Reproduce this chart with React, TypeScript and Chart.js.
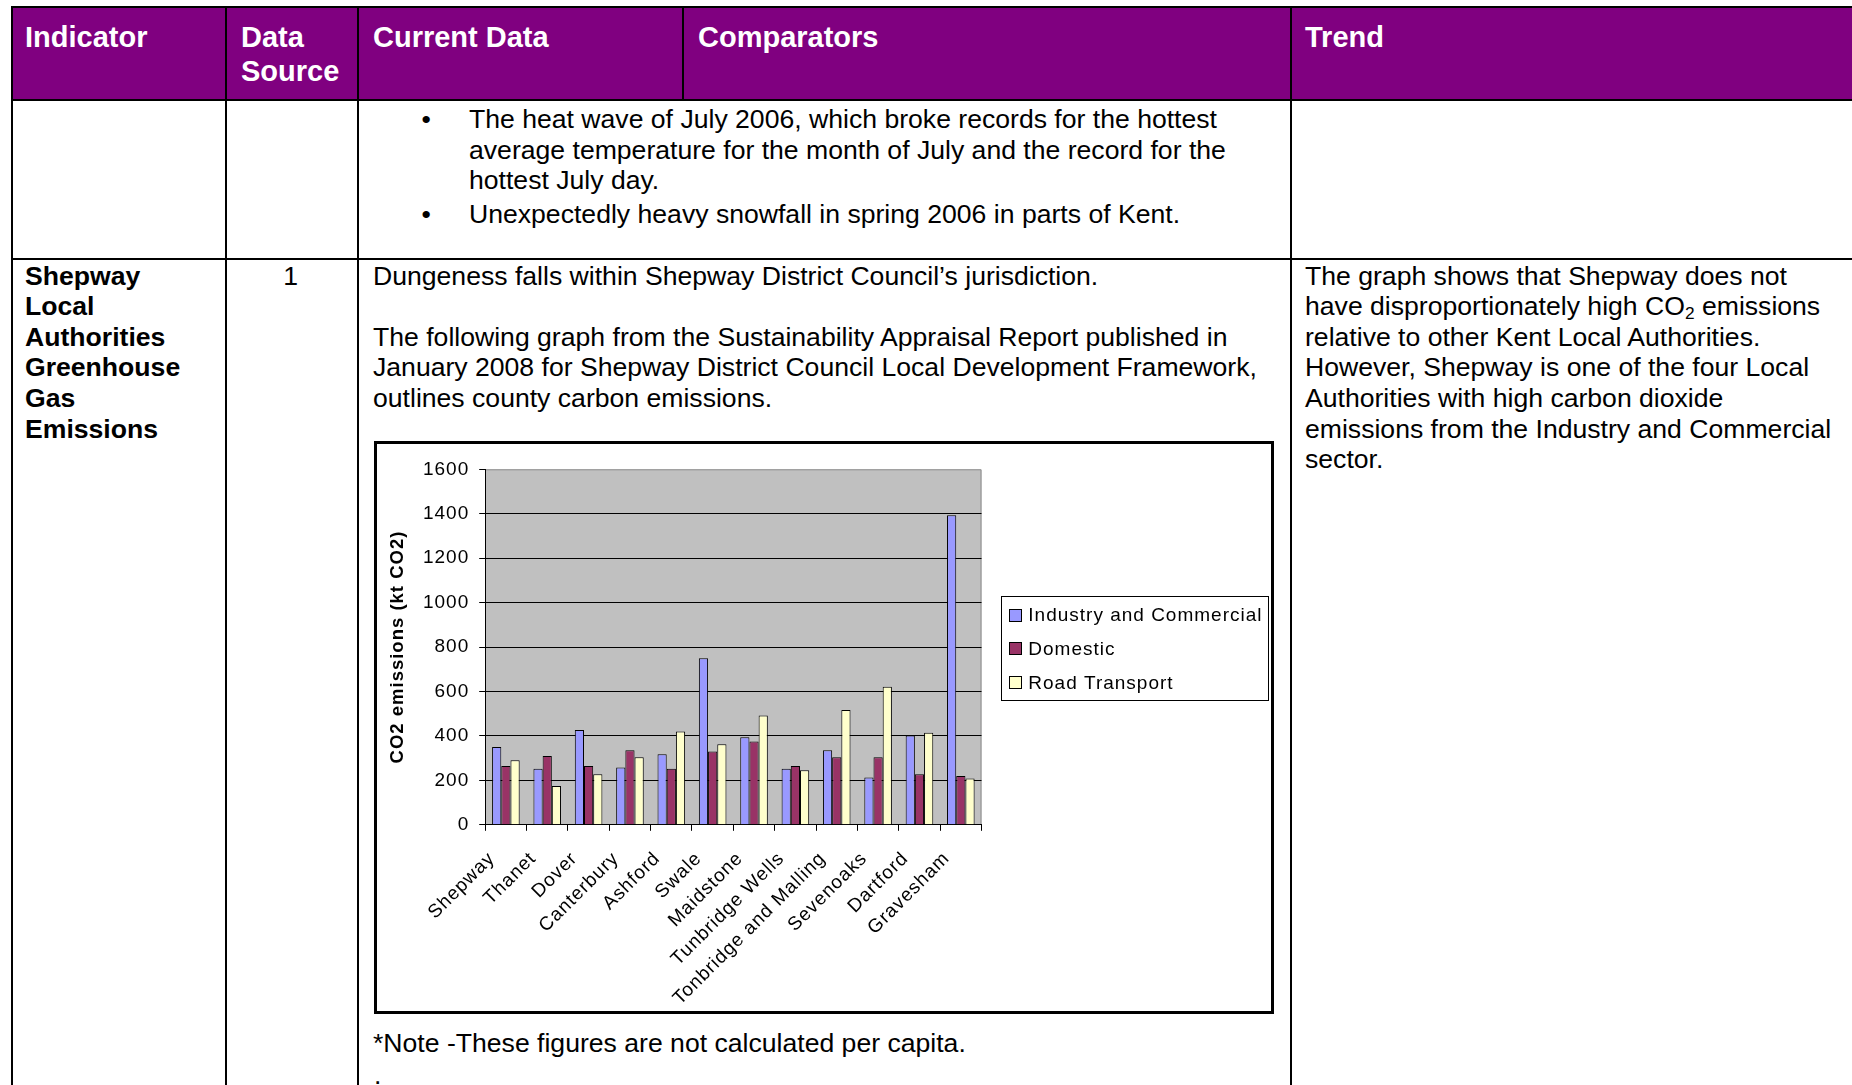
import React, { useEffect, useRef } from "react";
import { Chart, registerables } from "chart.js";

Chart.register(...registerables);

// ---------- data ----------
const districts = [
  "Shepway",
  "Thanet",
  "Dover",
  "Canterbury",
  "Ashford",
  "Swale",
  "Maidstone",
  "Tunbridge Wells",
  "Tonbridge and Malling",
  "Sevenoaks",
  "Dartford",
  "Gravesham",
];
const seriesLabels = ["Industry and Commercial", "Domestic", "Road Transport"];
const industryCommercial = [350, 252, 427, 258, 318, 750, 394, 252, 336, 213, 402, 1393];
const domestic = [265, 310, 265, 336, 252, 330, 375, 265, 304, 304, 228, 220];
const roadTransport = [291, 175, 228, 304, 420, 363, 492, 246, 517, 621, 414, 208];
const seriesColors = ["#9999FF", "#993366", "#FFFFCC"];
const yMin = 0;
const yMax = 1600;
const yStep = 200;
const yTitle = "CO2 emissions (kt CO2)";

const FONT = '"Liberation Sans", Arial, Helvetica, sans-serif';
const CHART_FONT_SIZE = 19;
const LETTER_SPACING = "1px";

// ---------- plugins ----------
const plotBackground = {
  id: "plotBackground",
  beforeDraw(chart: any) {
    const ctx = chart.ctx;
    (ctx as any).letterSpacing = LETTER_SPACING;
    const { left, top, right, bottom } = chart.chartArea;
    ctx.save();
    ctx.fillStyle = "#C0C0C0";
    ctx.fillRect(left, top, right - left, bottom - top);
    ctx.strokeStyle = "#8c8c8c";
    ctx.lineWidth = 1;
    ctx.beginPath();
    ctx.moveTo(left, top + 0.5);
    ctx.lineTo(right - 0.5, top + 0.5);
    ctx.lineTo(right - 0.5, bottom);
    ctx.stroke();
    ctx.restore();
  },
};

const boxedLegend = {
  id: "boxedLegend",
  afterDraw(chart: any) {
    const ctx = chart.ctx;
    const { right, top, bottom } = chart.chartArea;
    const datasets = chart.data.datasets;
    ctx.save();
    (ctx as any).letterSpacing = LETTER_SPACING;
    ctx.font = `${CHART_FONT_SIZE}px ${FONT}`;
    const maxW = Math.max(...datasets.map((d: any) => ctx.measureText(d.label).width));
    const boxL = right + 19.2;
    const textOff = 27.6;
    const boxW = textOff + maxW + 5;
    const rowH = 33.7;
    const boxH = 104.3;
    const cy = (top + bottom) / 2 + 1;
    const boxT = cy - boxH / 2;
    ctx.fillStyle = "#fff";
    ctx.fillRect(boxL, boxT, boxW, boxH);
    ctx.strokeStyle = "#000";
    ctx.lineWidth = 1;
    ctx.strokeRect(Math.round(boxL) + 0.5, Math.round(boxT) + 0.5, Math.round(boxW), Math.round(boxH));
    datasets.forEach((d: any, i: number) => {
      const y = boxT + 19.3 + i * rowH;
      const sx = Math.round(boxL + 8.3);
      const sy = Math.round(y - 6.5);
      ctx.fillStyle = d.backgroundColor;
      ctx.fillRect(sx, sy, 13, 13);
      ctx.strokeStyle = "#000";
      ctx.strokeRect(sx + 0.5, sy + 0.5, 12, 12);
      ctx.fillStyle = "#000";
      ctx.textAlign = "left";
      ctx.textBaseline = "middle";
      ctx.fillText(d.label, boxL + textOff, y + 1);
    });
    ctx.restore();
  },
};

// ---------- chart ----------
function EmissionsChart() {
  const canvasRef = useRef<HTMLCanvasElement>(null);
  useEffect(() => {
    const values = [industryCommercial, domestic, roadTransport];
    const chart = new Chart(canvasRef.current as HTMLCanvasElement, {
      type: "bar",
      data: {
        labels: districts,
        datasets: seriesLabels.map((label, i) => ({
          label,
          data: values[i],
          backgroundColor: seriesColors[i],
          borderColor: "#000",
          borderWidth: 1,
          categoryPercentage: 0.667,
          barPercentage: 1.0,
        })),
      },
      options: {
        responsive: false,
        animation: false,
        devicePixelRatio: 1,
        layout: { padding: { left: 0, top: 25.3, right: 289.5, bottom: 0 } },
        plugins: {
          legend: { display: false },
          tooltip: { enabled: false },
        },
        scales: {
          x: {
            offset: true,
            grid: {
              display: true,
              drawOnChartArea: false,
              drawTicks: true,
              tickLength: 6,
              tickColor: "#000",
              color: "#000",
              offset: true,
            },
            border: { display: true, color: "#000", width: 1 },
            ticks: {
              autoSkip: false,
              maxRotation: 45,
              minRotation: 45,
              padding: 18,
              labelOffset: -14,
              color: "#000",
              font: { family: FONT, size: CHART_FONT_SIZE, lineHeight: 1.0 },
            },
            afterFit: (s: any) => {
              s.height = 185.2;
            },
          },
          y: {
            min: yMin,
            max: yMax,
            ticks: {
              stepSize: yStep,
              padding: 10,
              color: "#000",
              font: { family: FONT, size: CHART_FONT_SIZE },
              callback: (v: any) => String(v),
            },
            grid: {
              color: (c: any) => (c.tick && c.tick.value === yMax ? "rgba(0,0,0,0)" : "#000"),
              tickColor: "#000",
              tickLength: 6,
              lineWidth: 1,
            },
            border: { display: true, color: "#000", width: 1 },
            title: {
              display: true,
              text: yTitle,
              color: "#000",
              font: { family: FONT, size: 18.5, weight: "bold" },
              padding: { top: 10, bottom: 0 },
            },
            afterFit: (s: any) => {
              s.width = 108.2;
            },
          },
        },
      } as any,
      plugins: [plotBackground, boxedLegend],
    });
    return () => chart.destroy();
  }, []);
  return <canvas ref={canvasRef} width={894} height={566} style={{ display: "block" }} />;
}

// ---------- layout helpers ----------
const LINE = 2;
function HLine({ y, x1, x2 }: { y: number; x1: number; x2: number }) {
  return (
    <div
      style={{ position: "absolute", left: x1 - LINE / 2, top: y - LINE / 2, width: x2 - x1 + LINE, height: LINE, background: "#000" }}
    />
  );
}
function VLine({ x, y1, y2 }: { x: number; y1: number; y2: number }) {
  return (
    <div
      style={{ position: "absolute", left: x - LINE / 2, top: y1 - LINE / 2, width: LINE, height: y2 - y1 + LINE, background: "#000" }}
    />
  );
}

const bodyText: React.CSSProperties = {
  position: "absolute",
  fontFamily: FONT,
  fontSize: 26.6,
  lineHeight: "30.6px",
  color: "#000",
  whiteSpace: "nowrap",
};
const headText: React.CSSProperties = {
  position: "absolute",
  fontFamily: FONT,
  fontSize: 29,
  fontWeight: "bold",
  lineHeight: "34px",
  color: "#fff",
  whiteSpace: "nowrap",
};
const sub: React.CSSProperties = { fontSize: "0.65em", verticalAlign: "-0.25em", lineHeight: 0 };

export default function App() {
  const X0 = 11.8;
  const X1 = 225.6;
  const X2 = 357.9;
  const X3 = 682.6;
  const X4 = 1290.9;
  const Y0 = 7;
  const Y1 = 100;
  const Y2 = 258.6;
  const R2 = 260.6;
  return (
    <div
      style={{
        position: "fixed",
        left: 0,
        top: 0,
        width: 1852,
        height: 1085,
        overflow: "hidden",
        background: "#fff",
        fontFamily: FONT,
      }}
    >
      {/* header fill */}
      <div style={{ position: "absolute", left: X0, top: Y0, width: 1852 - X0, height: Y1 - Y0, background: "#800080" }} />

      {/* header texts */}
      <div style={{ ...headText, left: 25, top: 19.5 }}>Indicator</div>
      <div style={{ ...headText, left: 241, top: 19.5 }}>
        Data
        <br />
        Source
      </div>
      <div style={{ ...headText, left: 373, top: 19.5 }}>Current Data</div>
      <div style={{ ...headText, left: 698, top: 19.5 }}>Comparators</div>
      <div style={{ ...headText, left: 1305, top: 19.5 }}>Trend</div>

      {/* row 1 bullets */}
      <div style={{ ...bodyText, left: 421.5, top: 104 }}>•</div>
      <div style={{ ...bodyText, left: 469, top: 104 }}>
        The heat wave of July 2006, which broke records for the hottest
        <br />
        average temperature for the month of July and the record for the
        <br />
        hottest July day.
      </div>
      <div style={{ ...bodyText, left: 421.5, top: 198.5 }}>•</div>
      <div style={{ ...bodyText, left: 469, top: 198.5 }}>Unexpectedly heavy snowfall in spring 2006 in parts of Kent.</div>

      {/* row 2 */}
      <div style={{ ...bodyText, left: 25, top: R2, fontWeight: "bold" }}>
        Shepway
        <br />
        Local
        <br />
        Authorities
        <br />
        Greenhouse
        <br />
        Gas
        <br />
        Emissions
      </div>
      <div style={{ ...bodyText, left: X1, width: X2 - X1 - 2, textAlign: "center", top: R2 }}>1</div>
      <div style={{ ...bodyText, left: 373, top: R2 }}>
        Dungeness falls within Shepway District Council’s jurisdiction.
        <br />
        <br />
        The following graph from the Sustainability Appraisal Report published in
        <br />
        January 2008 for Shepway District Council Local Development Framework,
        <br />
        outlines county carbon emissions.
      </div>
      <div style={{ ...bodyText, left: 1305, top: R2 }}>
        The graph shows that Shepway does not
        <br />
        have disproportionately high CO<span style={sub}>2</span> emissions
        <br />
        relative to other Kent Local Authorities.
        <br />
        However, Shepway is one of the four Local
        <br />
        Authorities with high carbon dioxide
        <br />
        emissions from the Industry and Commercial
        <br />
        sector.
      </div>

      {/* chart box */}
      <div
        style={{
          position: "absolute",
          left: 374,
          top: 441,
          width: 894,
          height: 567,
          border: "3px solid #000",
          background: "#fff",
        }}
      >
        <EmissionsChart />
      </div>

      <div style={{ ...bodyText, left: 373, top: 1028 }}>*Note -These figures are not calculated per capita.</div>
      <div style={{ ...bodyText, left: 374, top: 1059.5 }}>.</div>

      {/* grid lines */}
      <HLine y={Y0} x1={X0} x2={1852} />
      <HLine y={Y1} x1={X0} x2={1852} />
      <HLine y={Y2} x1={X0} x2={1852} />
      <VLine x={X0} y1={Y0} y2={1090} />
      <VLine x={X1} y1={Y0} y2={1090} />
      <VLine x={X2} y1={Y0} y2={1090} />
      <VLine x={X3} y1={Y0} y2={Y1} />
      <VLine x={X4} y1={Y0} y2={1090} />
    </div>
  );
}
